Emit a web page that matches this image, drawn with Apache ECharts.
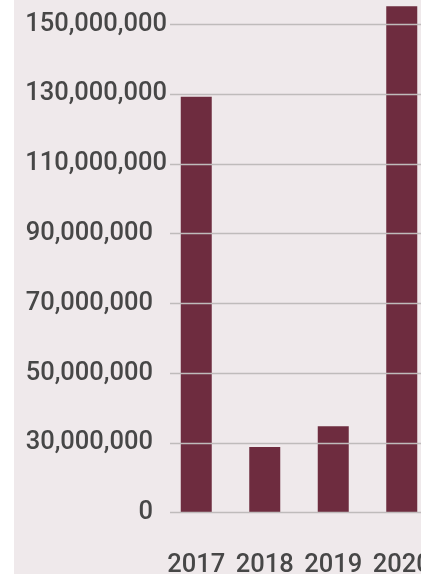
<!DOCTYPE html>
<html>
<head>
<meta charset="utf-8">
<script src="https://cdn.jsdelivr.net/npm/echarts@6/dist/echarts.min.js"></script>
<style>
  html, body { margin: 0; padding: 0; background: #ffffff; overflow: hidden; width: 421px; height: 574px; }
  #wrap { position: absolute; left: 14px; top: 0; width: 407px; height: 574px; background: #efe9eb; }
  #chart { position: absolute; left: 0; top: -60px; width: 440px; height: 680px; }
</style>
</head>
<body>
<div id="wrap"></div>
<div id="chart"></div>
<script>
var years = ['2017', '2018', '2019', '2020'];
var values = [129200000, 28800000, 34800000, 155200000];
var yTickLabels = ['0', '30,000,000', '50,000,000', '70,000,000', '90,000,000', '110,000,000', '130,000,000', '150,000,000', '170,000,000'];
var yMin = 10000000, yMax = 170000000, yStep = 20000000;

var chart = echarts.init(document.getElementById('chart'), null, { renderer: 'canvas' });
var font = 'Roboto';
var txtColor = '#474747';
var fs = 25.5;
chart.setOption({
  backgroundColor: 'transparent',
  animation: false,
  grid: [
    { left: 170, right: 0, top: 14.5, bottom: 107.3, outerBoundsMode: 'none', containLabel: false },
    { left: 162, right: 4, top: 14.5, bottom: 107.3, outerBoundsMode: 'none', containLabel: false }
  ],
  xAxis: [
    { type: 'category', gridIndex: 0, data: years, show: false },
    {
      type: 'category', gridIndex: 1, data: years,
      axisLine: { show: false }, axisTick: { show: false },
      axisLabel: { interval: 0, color: txtColor, fontFamily: font, fontSize: fs, fontWeight: 500, margin: 40 }
    }
  ],
  yAxis: [
    {
      type: 'value', gridIndex: 0, min: yMin, max: yMax, interval: yStep, z: 10,
      axisLine: { show: false }, axisTick: { show: false },
      splitLine: { show: true, lineStyle: { color: '#bfbbbb', width: 1.3 } },
      axisLabel: {
        color: txtColor, fontFamily: font, fontSize: fs, fontWeight: 500, margin: 3,
        formatter: function (v, i) {
          var t = yTickLabels[i];
          if (t === undefined) return '';
          return t.length > 10 ? '{l|' + t + '}' : '{s|' + t + '}';
        },
        rich: {
          l: { color: txtColor, fontFamily: font, fontSize: fs, fontWeight: 500 },
          s: { color: txtColor, fontFamily: font, fontSize: fs, fontWeight: 500, padding: [0, 14, 0, 0] }
        }
      }
    },
    {
      type: 'value', gridIndex: 1, min: yMin, max: yMax, interval: yStep, show: false,
      splitLine: { show: false }
    }
  ],
  series: [{
    type: 'bar',
    xAxisIndex: 1, yAxisIndex: 1,
    data: values,
    barWidth: 31,
    itemStyle: { color: '#6e2c3f' }
  }]
});
</script>
</body>
</html>
